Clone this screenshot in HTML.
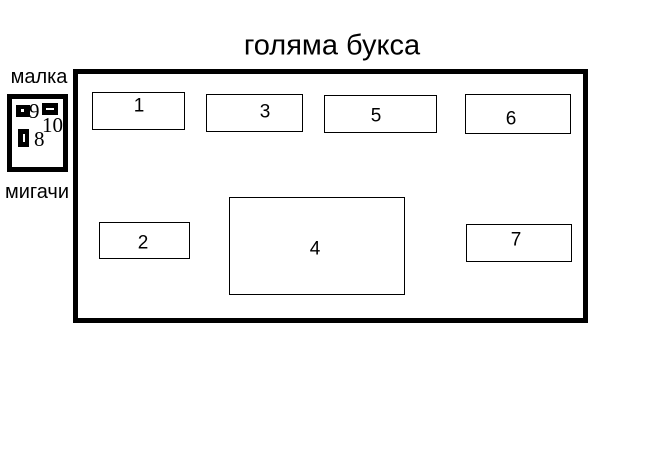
<!DOCTYPE html>
<html><head><meta charset="utf-8"><style>
body{margin:0;width:666px;height:467px;background:#fff;position:relative;overflow:hidden;font-family:"Liberation Sans",sans-serif;color:#000}
div{position:absolute;box-sizing:border-box}
.b{border:1px solid #000}
.t{font-size:19px;line-height:1;transform:translate(-50%,-50%)}
.s{font-family:"Liberation Serif",serif;font-size:21px;line-height:1}
</style></head><body>
<div class="t" style="left:332px;top:46px;font-size:29px;white-space:nowrap">голяма букса</div>
<div class="t" style="left:39px;top:77px;font-size:20px;white-space:nowrap">малка</div>
<div class="t" style="left:37px;top:192px;font-size:20px;white-space:nowrap">мигачи</div>
<div style="left:73px;top:69px;width:515px;height:254px;border:5px solid #000"></div>
<div style="left:7px;top:94px;width:61px;height:78px;border:5px solid #000"></div>
<div style="left:16px;top:105px;width:14px;height:12px;background:#000"><div style="left:5px;top:4px;width:3px;height:3px;background:#fff"></div></div>
<div style="left:42px;top:103px;width:16px;height:12px;background:#000"><div style="left:4px;top:5px;width:8px;height:2px;background:#fff"></div></div>
<div style="left:18px;top:129px;width:11px;height:18px;background:#000"><div style="left:5px;top:5px;width:2px;height:8px;background:#fff"></div></div>
<div class="s" style="left:29px;top:101px">9</div>
<div class="s" style="left:42px;top:115px">10</div>
<div class="s" style="left:34px;top:129px">8</div>
<div class="b" style="left:92px;top:92px;width:93px;height:38px"></div>
<div class="b" style="left:206px;top:94px;width:97px;height:38px"></div>
<div class="b" style="left:324px;top:95px;width:113px;height:38px"></div>
<div class="b" style="left:465px;top:94px;width:106px;height:40px"></div>
<div class="b" style="left:99px;top:222px;width:91px;height:37px"></div>
<div class="b" style="left:229px;top:197px;width:176px;height:98px"></div>
<div class="b" style="left:466px;top:224px;width:106px;height:38px"></div>
<div class="t" style="left:139px;top:106px">1</div>
<div class="t" style="left:265px;top:112px">3</div>
<div class="t" style="left:376px;top:116px">5</div>
<div class="t" style="left:511px;top:119px">6</div>
<div class="t" style="left:143px;top:243px">2</div>
<div class="t" style="left:315px;top:249px">4</div>
<div class="t" style="left:516px;top:240px">7</div>
</body></html>
